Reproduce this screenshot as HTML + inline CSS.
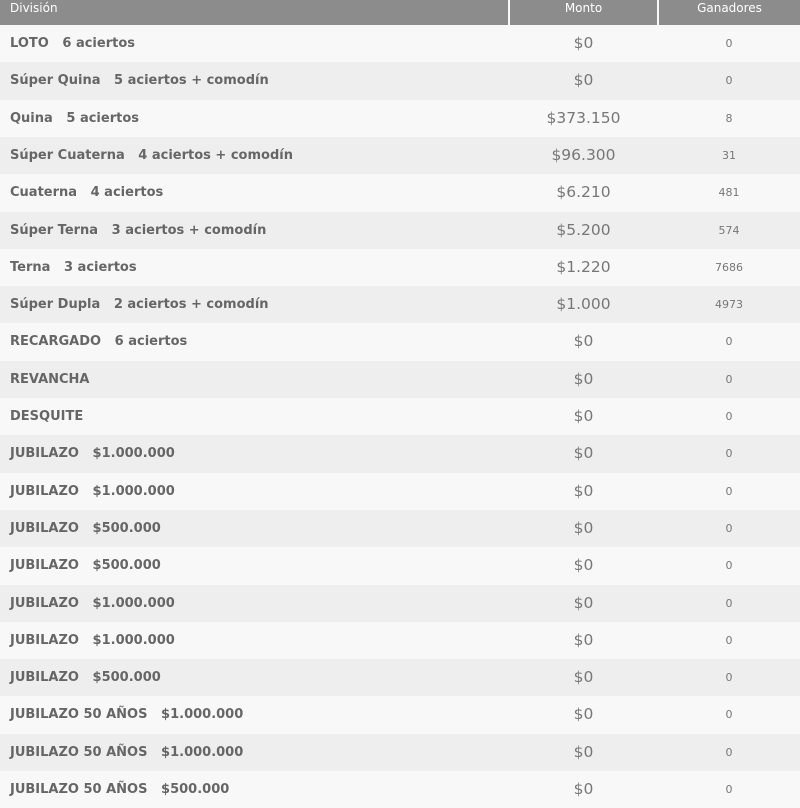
<!DOCTYPE html>
<html><head><meta charset="utf-8"><style>
body{margin:0;width:800px;height:792px;overflow:hidden;background:#f8f8f8;font-family:"DejaVu Sans","Liberation Sans",sans-serif;}
.h{position:absolute;top:0;height:25px;background:#8c8c8c;color:#fff;font-size:12px;line-height:16px;}
.r{position:absolute;left:0;width:800px;height:37.3px;}
.r div{position:absolute;top:0;height:37.3px;line-height:37px;white-space:pre;}
.d{left:10px;font-weight:bold;font-size:13px;color:#666;}
.m{left:509px;width:149px;text-align:center;font-size:15.5px;color:#777;}
.g{left:658px;width:142px;text-align:center;font-size:11px;color:#777;}
</style></head><body>
<div class="h" style="left:0;width:508px;"><span style="padding-left:10px">División</span></div>
<div class="h" style="left:510px;width:147px;text-align:center">Monto</div>
<div class="h" style="left:659px;width:141px;text-align:center">Ganadores</div>
<div id="t"></div>
<script>
var rows=[["LOTO   6 aciertos","$0","0"],["Súper Quina   5 aciertos + comodín","$0","0"],["Quina   5 aciertos","$373.150","8"],["Súper Cuaterna   4 aciertos + comodín","$96.300","31"],["Cuaterna   4 aciertos","$6.210","481"],["Súper Terna   3 aciertos + comodín","$5.200","574"],["Terna   3 aciertos","$1.220","7686"],["Súper Dupla   2 aciertos + comodín","$1.000","4973"],["RECARGADO   6 aciertos","$0","0"],["REVANCHA","$0","0"],["DESQUITE","$0","0"],["JUBILAZO   $1.000.000","$0","0"],["JUBILAZO   $1.000.000","$0","0"],["JUBILAZO   $500.000","$0","0"],["JUBILAZO   $500.000","$0","0"],["JUBILAZO   $1.000.000","$0","0"],["JUBILAZO   $1.000.000","$0","0"],["JUBILAZO   $500.000","$0","0"],["JUBILAZO 50 AÑOS   $1.000.000","$0","0"],["JUBILAZO 50 AÑOS   $1.000.000","$0","0"],["JUBILAZO 50 AÑOS   $500.000","$0","0"]];
var h="";rows.forEach(function(r,i){h+='<div class="r" style="top:'+(25+i*37.3)+'px;background:'+(i%2?'#eeeeee':'#f8f8f8')+'"><div class="d">'+r[0]+'</div><div class="m">'+r[1]+'</div><div class="g">'+r[2]+'</div></div>';});
document.getElementById("t").innerHTML=h;
</script>
</body></html>
